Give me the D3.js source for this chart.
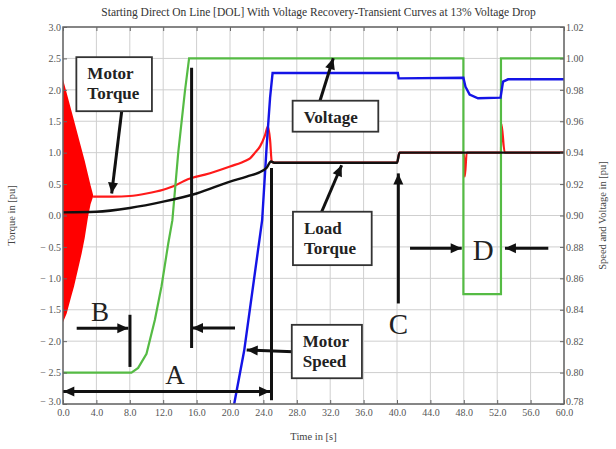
<!DOCTYPE html>
<html><head><meta charset="utf-8">
<script src="https://cdn.jsdelivr.net/npm/d3@7"></script>
<style>body{margin:0;background:#fff}svg{display:block}</style>
</head><body>
<svg id="c" width="616" height="449"></svg>
<script>
// ---------- data ----------
const title = "Starting Direct On Line [DOL] With Voltage Recovery-Transient Curves at 13% Voltage Drop";
const xLabel = "Time in [s]";
const yLeftLabel = "Torque in [pu]";
const yRightLabel = "Speed and Voltage in [pu]";
const xTicks = [0,4,8,12,16,20,24,28,32,36,40,44,48,52,56,60];
const leftTicks = [3.0,2.5,2.0,1.5,1.0,0.5,0.0,-0.5,-1.0,-1.5,-2.0,-2.5,-3.0];
const rightTicks = [0.78,0.80,0.82,0.84,0.86,0.88,0.90,0.92,0.94,0.96,0.98,1.00,1.02];

// motor torque transient band (envelope of oscillation), left axis
const bandT     = [0, 0.44, 1.0, 1.32, 2.0, 2.24, 2.6, 3.0, 3.3, 3.6];
const bandUpper = [2.17, 1.95, 1.67, 1.51, 1.17, 1.05, 0.87, 0.65, 0.48, 0.33];
const bandLower = [-1.70, -1.56, -1.28, -1.13, -0.74, -0.60, -0.36, -0.02, 0.18, 0.30];

// motor torque (left axis)
const torqueT = [3.6, 6, 8, 10, 12, 13.5, 14.5, 15.5, 17, 20, 22, 22.4, 23, 23.6, 24.2, 24.55, 24.8, 25.0, 25.2, 40.0, 40.3, 48.0, 48.12, 48.35, 52.45, 52.5, 52.9, 60];
const torqueV = [0.30, 0.30, 0.31, 0.35, 0.41, 0.48, 0.55, 0.60, 0.65, 0.78, 0.88, 0.91, 1.00, 1.10, 1.28, 1.42, 1.20, 0.86, 0.84, 0.84, 1.0, 1.0, 0.62, 1.0, 1.0, 1.46, 1.0, 1.0];

// load torque (left axis)
const loadT = [0, 4, 8, 12, 16, 20, 22, 24, 24.4, 24.9, 25.3, 40.0, 40.3, 60];
const loadV = [0.05, 0.06, 0.12, 0.22, 0.35, 0.54, 0.62, 0.72, 0.76, 0.86, 0.84, 0.84, 1.0, 1.0];

// voltage (right axis)
const voltT = [0, 8.2, 9, 10, 11, 11.8, 12.6, 13.1, 13.8, 14.6, 15.1, 47.95, 47.95, 52.45, 52.45, 60];
const voltV = [0.80, 0.80, 0.803, 0.812, 0.8335, 0.855, 0.882, 0.897, 0.94, 0.979, 1.00, 1.00, 0.85, 0.85, 1.00, 1.00];

// motor speed (right axis)
const speedT = [20.5, 21.7, 23.85, 24.4, 24.8, 25.1, 40.1, 40.2, 47.95, 48.2, 48.7, 49.7, 52.4, 52.7, 53.3, 60];
const speedV = [0.78, 0.814, 0.897, 0.945, 0.975, 0.9907, 0.9907, 0.9873, 0.9877, 0.982, 0.977, 0.9746, 0.975, 0.9852, 0.9867, 0.9867];

// ---------- layout ----------
const L = 63, R = 564, T = 27, B = 404;
const svg = d3.select("#c");
const x = d3.scaleLinear().domain([0,60]).range([L,R]);
const yL = d3.scaleLinear().domain([-3,3]).range([B,T]);
const yR = d3.scaleLinear().domain([0.78,1.02]).range([B,T]);
const serif = "'Liberation Serif','Times New Roman',serif";

svg.append("rect").attr("x",L).attr("y",T).attr("width",R-L).attr("height",B-T).attr("fill","#fff");

// grid
const grid = svg.append("g").attr("stroke","#cfcfcf").attr("stroke-width",1);
xTicks.forEach(t => grid.append("line").attr("x1",x(t)).attr("x2",x(t)).attr("y1",T).attr("y2",B));
leftTicks.forEach(v => grid.append("line").attr("x1",L).attr("x2",R).attr("y1",yL(v)).attr("y2",yL(v)));

// clip
svg.append("clipPath").attr("id","clip").append("rect").attr("x",L).attr("y",T).attr("width",R-L).attr("height",B-T);
const plot = svg.append("g").attr("clip-path","url(#clip)");

const zip = (a,b) => a.map((d,i)=>[d,b[i]]);

// red band
plot.append("path")
  .datum(bandT.map((t,i)=>({t, u:bandUpper[i], l:bandLower[i]})))
  .attr("d", d3.area().x(d=>x(d.t)).y0(d=>yL(d.l)).y1(d=>yL(d.u)))
  .attr("fill","#ff0000");

plot.append("path").datum(zip(torqueT,torqueV))
  .attr("d",d3.line().x(d=>x(d[0])).y(d=>yL(d[1])).curve(d3.curveMonotoneX))
  .attr("fill","none").attr("stroke","#ff1a1a").attr("stroke-width",2.2);
plot.append("path").datum(zip(voltT,voltV))
  .attr("d",d3.line().x(d=>x(d[0])).y(d=>yR(d[1])))
  .attr("fill","none").attr("stroke","#55bb44").attr("stroke-width",2.2);
plot.append("path").datum(zip(speedT,speedV))
  .attr("d",d3.line().x(d=>x(d[0])).y(d=>yR(d[1])))
  .attr("fill","none").attr("stroke","#1414e6").attr("stroke-width",2.4);
plot.append("path").datum(zip(loadT,loadV))
  .attr("d",d3.line().x(d=>x(d[0])).y(d=>yL(d[1])).curve(d3.curveMonotoneX))
  .attr("fill","none").attr("stroke","#111").attr("stroke-width",2.4);

// frame
svg.append("rect").attr("x",L).attr("y",T).attr("width",R-L).attr("height",B-T)
  .attr("fill","none").attr("stroke","#666").attr("stroke-width",1.5);

// axes
const fmtL = d => d < 0 ? "\u2212 " + Math.abs(d).toFixed(1) : d.toFixed(1);
const axL = svg.append("g").attr("transform",`translate(${L},0)`)
  .call(d3.axisLeft(yL).tickValues(leftTicks).tickFormat(fmtL).tickSizeInner(-4).tickSizeOuter(0).tickPadding(2));
const axR = svg.append("g").attr("transform",`translate(${R},0)`)
  .call(d3.axisRight(yR).tickValues(rightTicks).tickFormat(d=>d.toFixed(2)).tickSizeInner(-4).tickSizeOuter(0).tickPadding(2));
const axB = svg.append("g").attr("transform",`translate(0,${B})`)
  .call(d3.axisBottom(x).tickValues(xTicks).tickFormat(d=>d.toFixed(1)).tickSizeInner(-4).tickSizeOuter(0).tickPadding(5));
const axT = svg.append("g").attr("transform",`translate(0,${T})`)
  .call(d3.axisTop(x).tickValues(xTicks).tickFormat("").tickSizeInner(-4).tickSizeOuter(0));
[axL,axR,axB,axT].forEach(a=>{
  a.select(".domain").remove();
  a.selectAll(".tick line").attr("stroke","#666");
  a.selectAll("text").attr("font-family",serif).attr("font-size",10).attr("fill","#555");
});
// lowest left/right labels sit slightly raised at the corner
axL.selectAll(".tick").filter(d=>d===-3.0).select("text").attr("dy","0.05em");
axR.selectAll(".tick").filter(d=>d===0.78).select("text").attr("dy","0.05em");

// titles
svg.append("text").attr("x",(L+R)/2+5).attr("y",16).attr("text-anchor","middle")
  .attr("font-family",serif).attr("font-size",11.5).attr("fill","#333").text(title);
svg.append("text").attr("x",(L+R)/2).attr("y",440).attr("text-anchor","middle")
  .attr("font-family",serif).attr("font-size",10.5).attr("fill","#444").text(xLabel);
svg.append("text").attr("transform",`translate(15,${(T+B)/2}) rotate(-90)`).attr("text-anchor","middle")
  .attr("font-family",serif).attr("font-size",10.5).attr("fill","#444").text(yLeftLabel);
svg.append("text").attr("transform",`translate(606,${(T+B)/2}) rotate(-90)`).attr("text-anchor","middle")
  .attr("font-family",serif).attr("font-size",10.5).attr("fill","#444").text(yRightLabel);

// ---------- annotations (data units, left axis) ----------
const ann = svg.append("g");
function arrowHead(x1,y1,x2,y2){
  const a = Math.atan2(y2-y1,x2-x1), len=11, w=5;
  const bx = x2 - len*Math.cos(a), by = y2 - len*Math.sin(a);
  const px = -Math.sin(a)*w, py = Math.cos(a)*w;
  ann.append("path").attr("d",`M${x2},${y2}L${bx+px},${by+py}L${bx-px},${by-py}Z`).attr("fill","#111");
}
function arrow(t1,v1,t2,v2,both){
  const X1=x(t1),Y1=yL(v1),X2=x(t2),Y2=yL(v2);
  ann.append("line").attr("x1",X1).attr("y1",Y1).attr("x2",X2).attr("y2",Y2).attr("stroke","#111").attr("stroke-width",3);
  arrowHead(X1,Y1,X2,Y2);
  if(both) arrowHead(X2,Y2,X1,Y1);
}
function vline(t,v1,v2){
  ann.append("line").attr("x1",x(t)).attr("x2",x(t)).attr("y1",yL(v1)).attr("y2",yL(v2)).attr("stroke","#111").attr("stroke-width",3);
}
function box(t0,v0,t1,v1,lines){
  const X0=x(t0),Y0=yL(v0),X1=x(t1),Y1=yL(v1);
  ann.append("rect").attr("x",X0).attr("y",Y0).attr("width",X1-X0).attr("height",Y1-Y0)
    .attr("fill","#fff").attr("stroke","#333").attr("stroke-width",1.8);
  lines.forEach((s,i)=>ann.append("text").attr("x",X0+11).attr("y",Y0+22+i*20)
    .attr("font-family",serif).attr("font-weight","bold").attr("font-size",17).attr("fill","#222").text(s));
}
function letter(t,v,s,size){
  ann.append("text").attr("x",x(t)).attr("y",yL(v)).attr("text-anchor","middle")
    .attr("font-family",serif).attr("font-size",size).attr("fill","#222").text(s);
}

// Motor Torque
arrow(7.03,1.66,5.83,0.35);
box(1.6,2.52,10.65,1.66,["Motor","Torque"]);
// Voltage
arrow(30.78,1.827,32.37,2.502);
box(27.5,1.827,37.76,1.334,["Voltage"]);
// Load Torque
arrow(30.98,0.06,33.37,0.80);
box(27.54,0.06,36.97,-0.79,["Load","Torque"]);
// Motor Speed
arrow(27.58,-2.17,22.0,-2.14);
box(27.4,-1.74,35.8,-2.59,["Motor","Speed"]);
// B
arrow(1.64,-1.795,7.82,-1.795);
vline(8.02,-1.58,-2.41);
letter(4.43,-1.68,"B",27);
// vertical line at green rise end
vline(15.4,2.35,-2.11);
arrow(20.6,-1.79,15.45,-1.79);
// A
arrow(0.04,-2.80,24.8,-2.80,true);
vline(24.97,0.756,-2.94);
letter(13.4,-2.68,"A",27);
// C
arrow(40.16,-1.40,40.16,0.67);
letter(40.16,-1.88,"C",29);
// D
arrow(41.56,-0.52,47.75,-0.52);
arrow(58.12,-0.52,52.93,-0.52);
letter(50.34,-0.71,"D",29);
</script>
</body></html>
